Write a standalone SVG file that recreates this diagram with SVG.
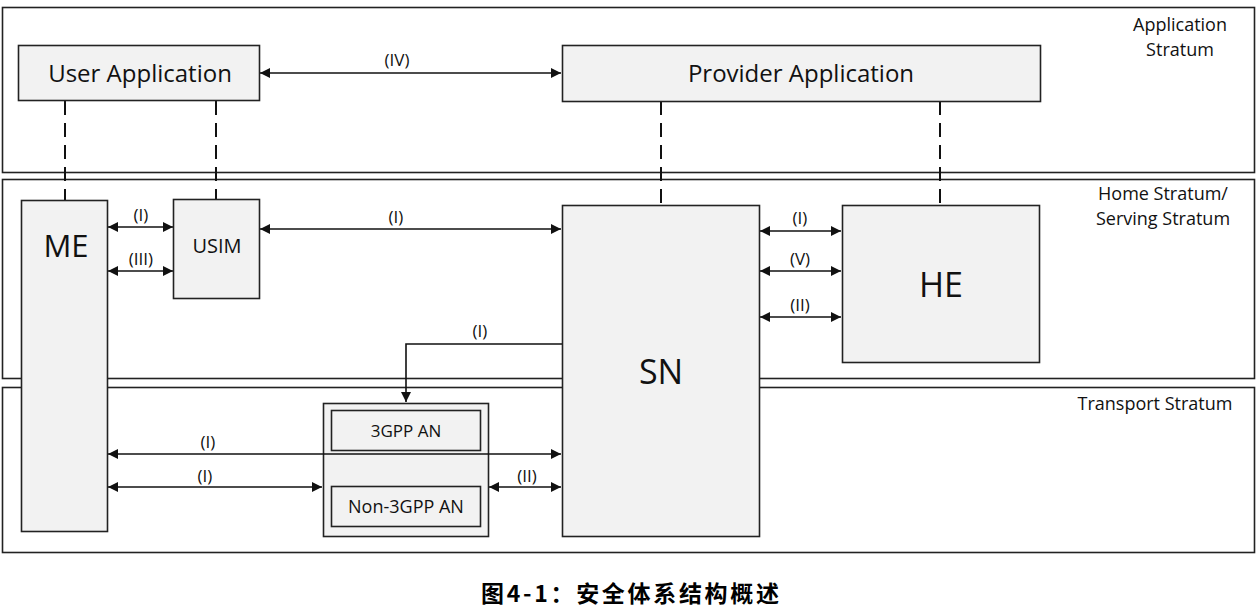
<svg xmlns="http://www.w3.org/2000/svg" width="1260" height="607" viewBox="0 0 1260 607">
<style>
.stratum{fill:#fff;stroke:#222;stroke-width:1.6}
.box{fill:#f2f2f2;stroke:#222;stroke-width:1.6}
.t{font-family:"Open Sans",Lato,"Liberation Sans",sans-serif;fill:#111;text-anchor:middle}
.lbl{font-size:17px}
.sl{font-size:18px}
.ln{stroke:#111;stroke-width:1.6;fill:none}
.dash{stroke:#111;stroke-width:2;stroke-dasharray:14 8;fill:none}
</style>
<defs>
<marker id="ah" viewBox="0 0 10 10" refX="10" refY="5" markerWidth="12" markerHeight="10" markerUnits="userSpaceOnUse" orient="auto-start-reverse">
<path d="M0,0 L10,5 L0,10 z" fill="#111"/>
</marker>
</defs>
<g id="strata">
<rect class="stratum" x="2.5" y="7.5" width="1252" height="165"/>
<text class="t sl" x="1180" y="31">Application</text>
<text class="t sl" x="1180" y="56">Stratum</text>
<rect class="stratum" x="2.5" y="179.5" width="1252" height="199"/>
<text class="t sl" x="1163" y="200">Home Stratum/</text>
<text class="t sl" x="1163" y="225">Serving Stratum</text>
<rect class="stratum" x="2.5" y="387.5" width="1252" height="165"/>
<text class="t sl" x="1155" y="410">Transport Stratum</text>
</g>
<g id="connectors">
<line class="dash" x1="65" y1="101" x2="65" y2="200"/>
<line class="dash" x1="216" y1="101" x2="216" y2="199"/>
<line class="dash" x1="661" y1="101" x2="661" y2="205"/>
<line class="dash" x1="940" y1="101" x2="940" y2="205"/>
<line class="ln" x1="260" y1="73" x2="561" y2="73" marker-start="url(#ah)" marker-end="url(#ah)"/>
<text class="t lbl" x="397" y="66">(IV)</text>
<line class="ln" x1="108" y1="227" x2="173" y2="227" marker-start="url(#ah)" marker-end="url(#ah)"/>
<text class="t lbl" x="141" y="221">(I)</text>
<line class="ln" x1="108" y1="271" x2="173" y2="271" marker-start="url(#ah)" marker-end="url(#ah)"/>
<text class="t lbl" x="141" y="265">(III)</text>
<line class="ln" x1="260" y1="229" x2="561" y2="229" marker-start="url(#ah)" marker-end="url(#ah)"/>
<text class="t lbl" x="396" y="223">(I)</text>
<line class="ln" x1="760" y1="231" x2="841" y2="231" marker-start="url(#ah)" marker-end="url(#ah)"/>
<text class="t lbl" x="800" y="224">(I)</text>
<line class="ln" x1="760" y1="271" x2="841" y2="271" marker-start="url(#ah)" marker-end="url(#ah)"/>
<text class="t lbl" x="800" y="265">(V)</text>
<line class="ln" x1="760" y1="317" x2="841" y2="317" marker-start="url(#ah)" marker-end="url(#ah)"/>
<text class="t lbl" x="800" y="311">(II)</text>
<polyline class="ln" points="562,344 406,344 406,402" marker-end="url(#ah)"/>
<text class="t lbl" x="480" y="337">(I)</text>
<line class="ln" x1="108" y1="454" x2="561" y2="454" marker-start="url(#ah)" marker-end="url(#ah)"/>
<text class="t lbl" x="208" y="448">(I)</text>
<line class="ln" x1="108" y1="487" x2="322" y2="487" marker-start="url(#ah)" marker-end="url(#ah)"/>
<text class="t lbl" x="205" y="482">(I)</text>
<line class="ln" x1="489" y1="487" x2="561" y2="487" marker-start="url(#ah)" marker-end="url(#ah)"/>
<text class="t lbl" x="527" y="482">(II)</text>
</g>
<g id="user-application">
<rect class="box" x="18.5" y="45.5" width="241" height="55"/>
<text class="t" x="140" y="82" font-size="24">User Application</text>
</g>
<g id="provider-application">
<rect class="box" x="562.5" y="45.5" width="478" height="56"/>
<text class="t" x="801" y="82" font-size="24">Provider Application</text>
</g>
<g id="me">
<rect class="box" x="21.5" y="200.5" width="86" height="331"/>
<text class="t" x="66" y="257" font-size="31">ME</text>
</g>
<g id="usim">
<rect class="box" x="173.5" y="199.5" width="86" height="99"/>
<text class="t" x="217" y="253" font-size="20">USIM</text>
</g>
<g id="sn">
<rect class="box" x="562.5" y="205.5" width="197" height="331"/>
<text class="t" x="661" y="384" font-size="34">SN</text>
</g>
<g id="he">
<rect class="box" x="842.5" y="205.5" width="197" height="157"/>
<text class="t" x="941" y="297" font-size="34">HE</text>
</g>
<g id="an">
<rect class="box" x="323.5" y="403.5" width="165" height="133"/>
<line class="ln" x1="323" y1="454" x2="489" y2="454"/>
<rect class="box" x="331.5" y="410.5" width="149" height="40"/>
<text class="t" x="406" y="437" font-size="17">3GPP AN</text>
<rect class="box" x="331.5" y="486.5" width="149" height="40"/>
<text class="t" x="406" y="513" font-size="18">Non-3GPP AN</text>
</g>
<g id="caption">
<text x="630" y="602" font-family="'Noto Sans CJK SC',sans-serif" font-weight="bold" font-size="23" text-anchor="middle" textLength="298" lengthAdjust="spacing" fill="#000">图4-1：安全体系结构概述</text>
</g>
</svg>
